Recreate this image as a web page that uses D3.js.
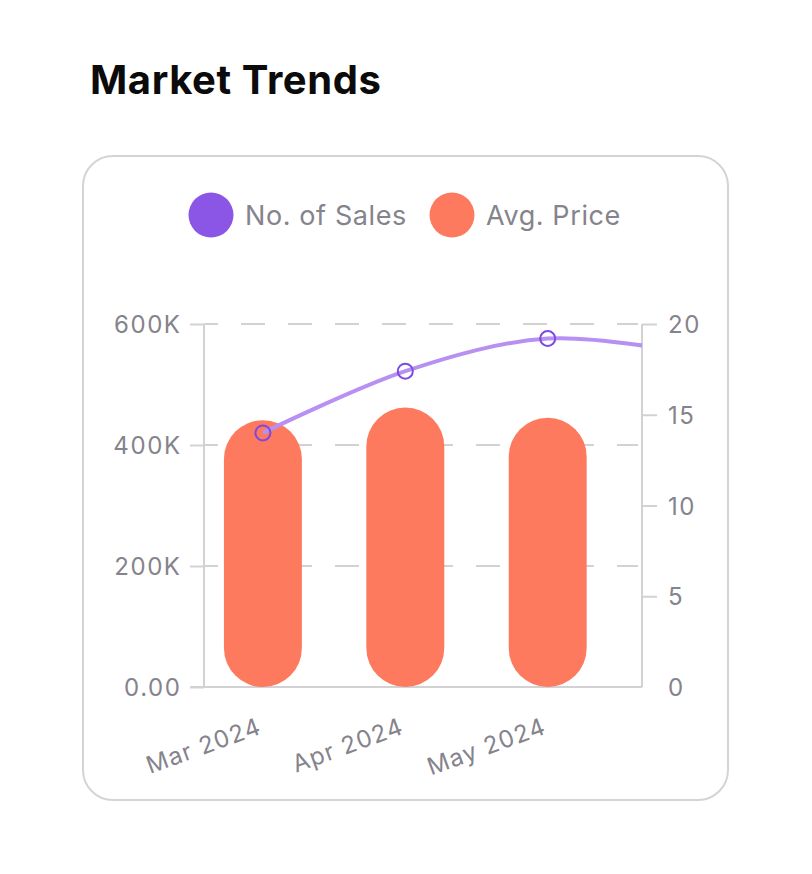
<!DOCTYPE html>
<html>
<head>
<meta charset="utf-8">
<script src="https://cdn.jsdelivr.net/npm/d3@7"></script>
<style>
  body { margin: 0; background: #fff; }
  text { font-family: Inter, "Open Sans", sans-serif; }
</style>
</head>
<body>
<svg id="chart" width="812" height="874"></svg>
<script>
// months on the x axis (the line runs on past the last bar and is cut at the axis)
var months = ["Mar 2024", "Apr 2024", "May 2024", "Jun 2024"];
var avgPrice = [441000, 462000, 445000];      // left axis, bars
var noOfSales = [14, 17.4, 19.2, 18.4];       // right axis, line
var leftTicks = [0, 200000, 400000, 600000];
var leftTickLabels = ["0.00", "200K", "400K", "600K"];
var rightTicks = [0, 5, 10, 15, 20];

var gray = "#85838c", axisGray = "#d2d2d4";
var purple = "#8b55e6", lineColor = "#b790f2", orange = "#fd7a5e";

var svg = d3.select("#chart");

// title
svg.append("text")
    .attr("x", 90).attr("y", 94)
    .attr("font-size", 40).attr("font-weight", 700)
    .attr("letter-spacing", 0.6)
    .attr("fill", "#0b0b0b")
    .text("Market Trends");

// card
svg.append("rect")
    .attr("x", 83).attr("y", 156)
    .attr("width", 645).attr("height", 644)
    .attr("rx", 30)
    .attr("fill", "#fff").attr("stroke", "#d4d4d6").attr("stroke-width", 2);

// legend
var legend = [{ name: "No. of Sales", color: purple, x: 211 }, { name: "Avg. Price", color: orange, x: 452 }];
var lg = svg.selectAll(".legend").data(legend).enter().append("g").attr("class", "legend");
lg.append("circle").attr("cx", function(d) { return d.x; }).attr("cy", 215).attr("r", 22.5)
    .attr("fill", function(d) { return d.color; });
lg.append("text").attr("x", function(d) { return d.x + 34; }).attr("y", 225)
    .attr("font-size", 27).attr("letter-spacing", 0.6).attr("fill", gray)
    .text(function(d) { return d.name; });

var plotL = 204, plotR = 642, plotT = 324, plotB = 687;

var x = d3.scaleBand().domain(months).range([plotL, 749]).paddingInner(0.4526).paddingOuter(0.14);
var yLeft = d3.scaleLinear().domain([0, 600000]).range([plotB, plotT]);
var yRight = d3.scaleLinear().domain([0, 20]).range([plotB, plotT]);

// dashed grid
svg.append("g").selectAll("line").data(leftTicks.filter(function(t) { return t > 0; })).enter()
    .append("line")
    .attr("x1", plotL).attr("x2", plotR - 4)
    .attr("y1", function(d) { return yLeft(d); }).attr("y2", function(d) { return yLeft(d); })
    .attr("stroke", axisGray).attr("stroke-width", 2)
    .attr("stroke-dasharray", "24,23").attr("stroke-dashoffset", 10);

// left axis
var leftAxis = svg.append("g").attr("transform", "translate(" + plotL + ",0)")
    .call(d3.axisLeft(yLeft).tickValues(leftTicks).tickSize(14).tickPadding(10)
        .tickFormat(function(d, i) { return leftTickLabels[i]; }));

// right axis
var rightAxis = svg.append("g").attr("transform", "translate(" + plotR + ",0)")
    .call(d3.axisRight(yRight).tickValues(rightTicks).tickSize(15).tickPadding(11));
rightAxis.selectAll(".tick").filter(function(d) { return d === 0; }).select("line").remove();

[leftAxis, rightAxis].forEach(function(ax) {
    ax.select(".domain").attr("d", "M0," + plotT + "V" + plotB)
        .attr("stroke", axisGray).attr("stroke-width", 2);
    ax.selectAll(".tick line").attr("stroke", axisGray).attr("stroke-width", 2);
    ax.selectAll(".tick text").attr("fill", gray).attr("font-size", 24)
        .attr("letter-spacing", 1.6)
        .attr("font-family", "Inter, sans-serif").attr("dy", "0.36em");
});
// keep right-aligned labels ending where the reference ends them
leftAxis.selectAll(".tick text").attr("dx", 1.6);

// bottom axis line
svg.append("line")
    .attr("x1", 190).attr("x2", plotR).attr("y1", plotB).attr("y2", plotB)
    .attr("stroke", axisGray).attr("stroke-width", 2);

// x labels
svg.append("g").selectAll("text").data(months.slice(0, avgPrice.length)).enter()
    .append("text")
    .attr("transform", function(d) {
        return "translate(" + (x(d) + x.bandwidth() / 2) + "," + 733 + ") rotate(-20)";
    })
    .attr("text-anchor", "end")
    .attr("font-size", 24).attr("letter-spacing", 1.2).attr("fill", gray)
    .text(function(d) { return d; });

// clip for plot area
svg.append("clipPath").attr("id", "plotClip")
    .append("rect").attr("x", plotL).attr("y", 0).attr("width", plotR - plotL).attr("height", plotB + 2);

// bars
svg.append("g").attr("clip-path", "url(#plotClip)")
    .selectAll("rect").data(avgPrice).enter()
    .append("rect")
    .attr("x", function(d, i) { return x(months[i]); })
    .attr("y", function(d) { return yLeft(d); })
    .attr("width", x.bandwidth())
    .attr("height", function(d) { return plotB - yLeft(d); })
    .attr("rx", x.bandwidth() / 2)
    .attr("fill", orange);

// line
var line = d3.line()
    .x(function(d, i) { return x(months[i]) + x.bandwidth() / 2; })
    .y(function(d) { return yRight(d); })
    .curve(d3.curveCardinal);

var lineG = svg.append("g").attr("clip-path", "url(#plotClip)");
lineG.append("path").datum(noOfSales)
    .attr("d", line)
    .attr("fill", "none").attr("stroke", lineColor).attr("stroke-width", 4);

lineG.selectAll("circle").data(noOfSales).enter()
    .append("circle")
    .attr("cx", function(d, i) { return x(months[i]) + x.bandwidth() / 2; })
    .attr("cy", function(d) { return yRight(d); })
    .attr("r", 7.5)
    .attr("fill", "none").attr("stroke", "#7d48e3").attr("stroke-width", 2);
</script>
</body>
</html>
